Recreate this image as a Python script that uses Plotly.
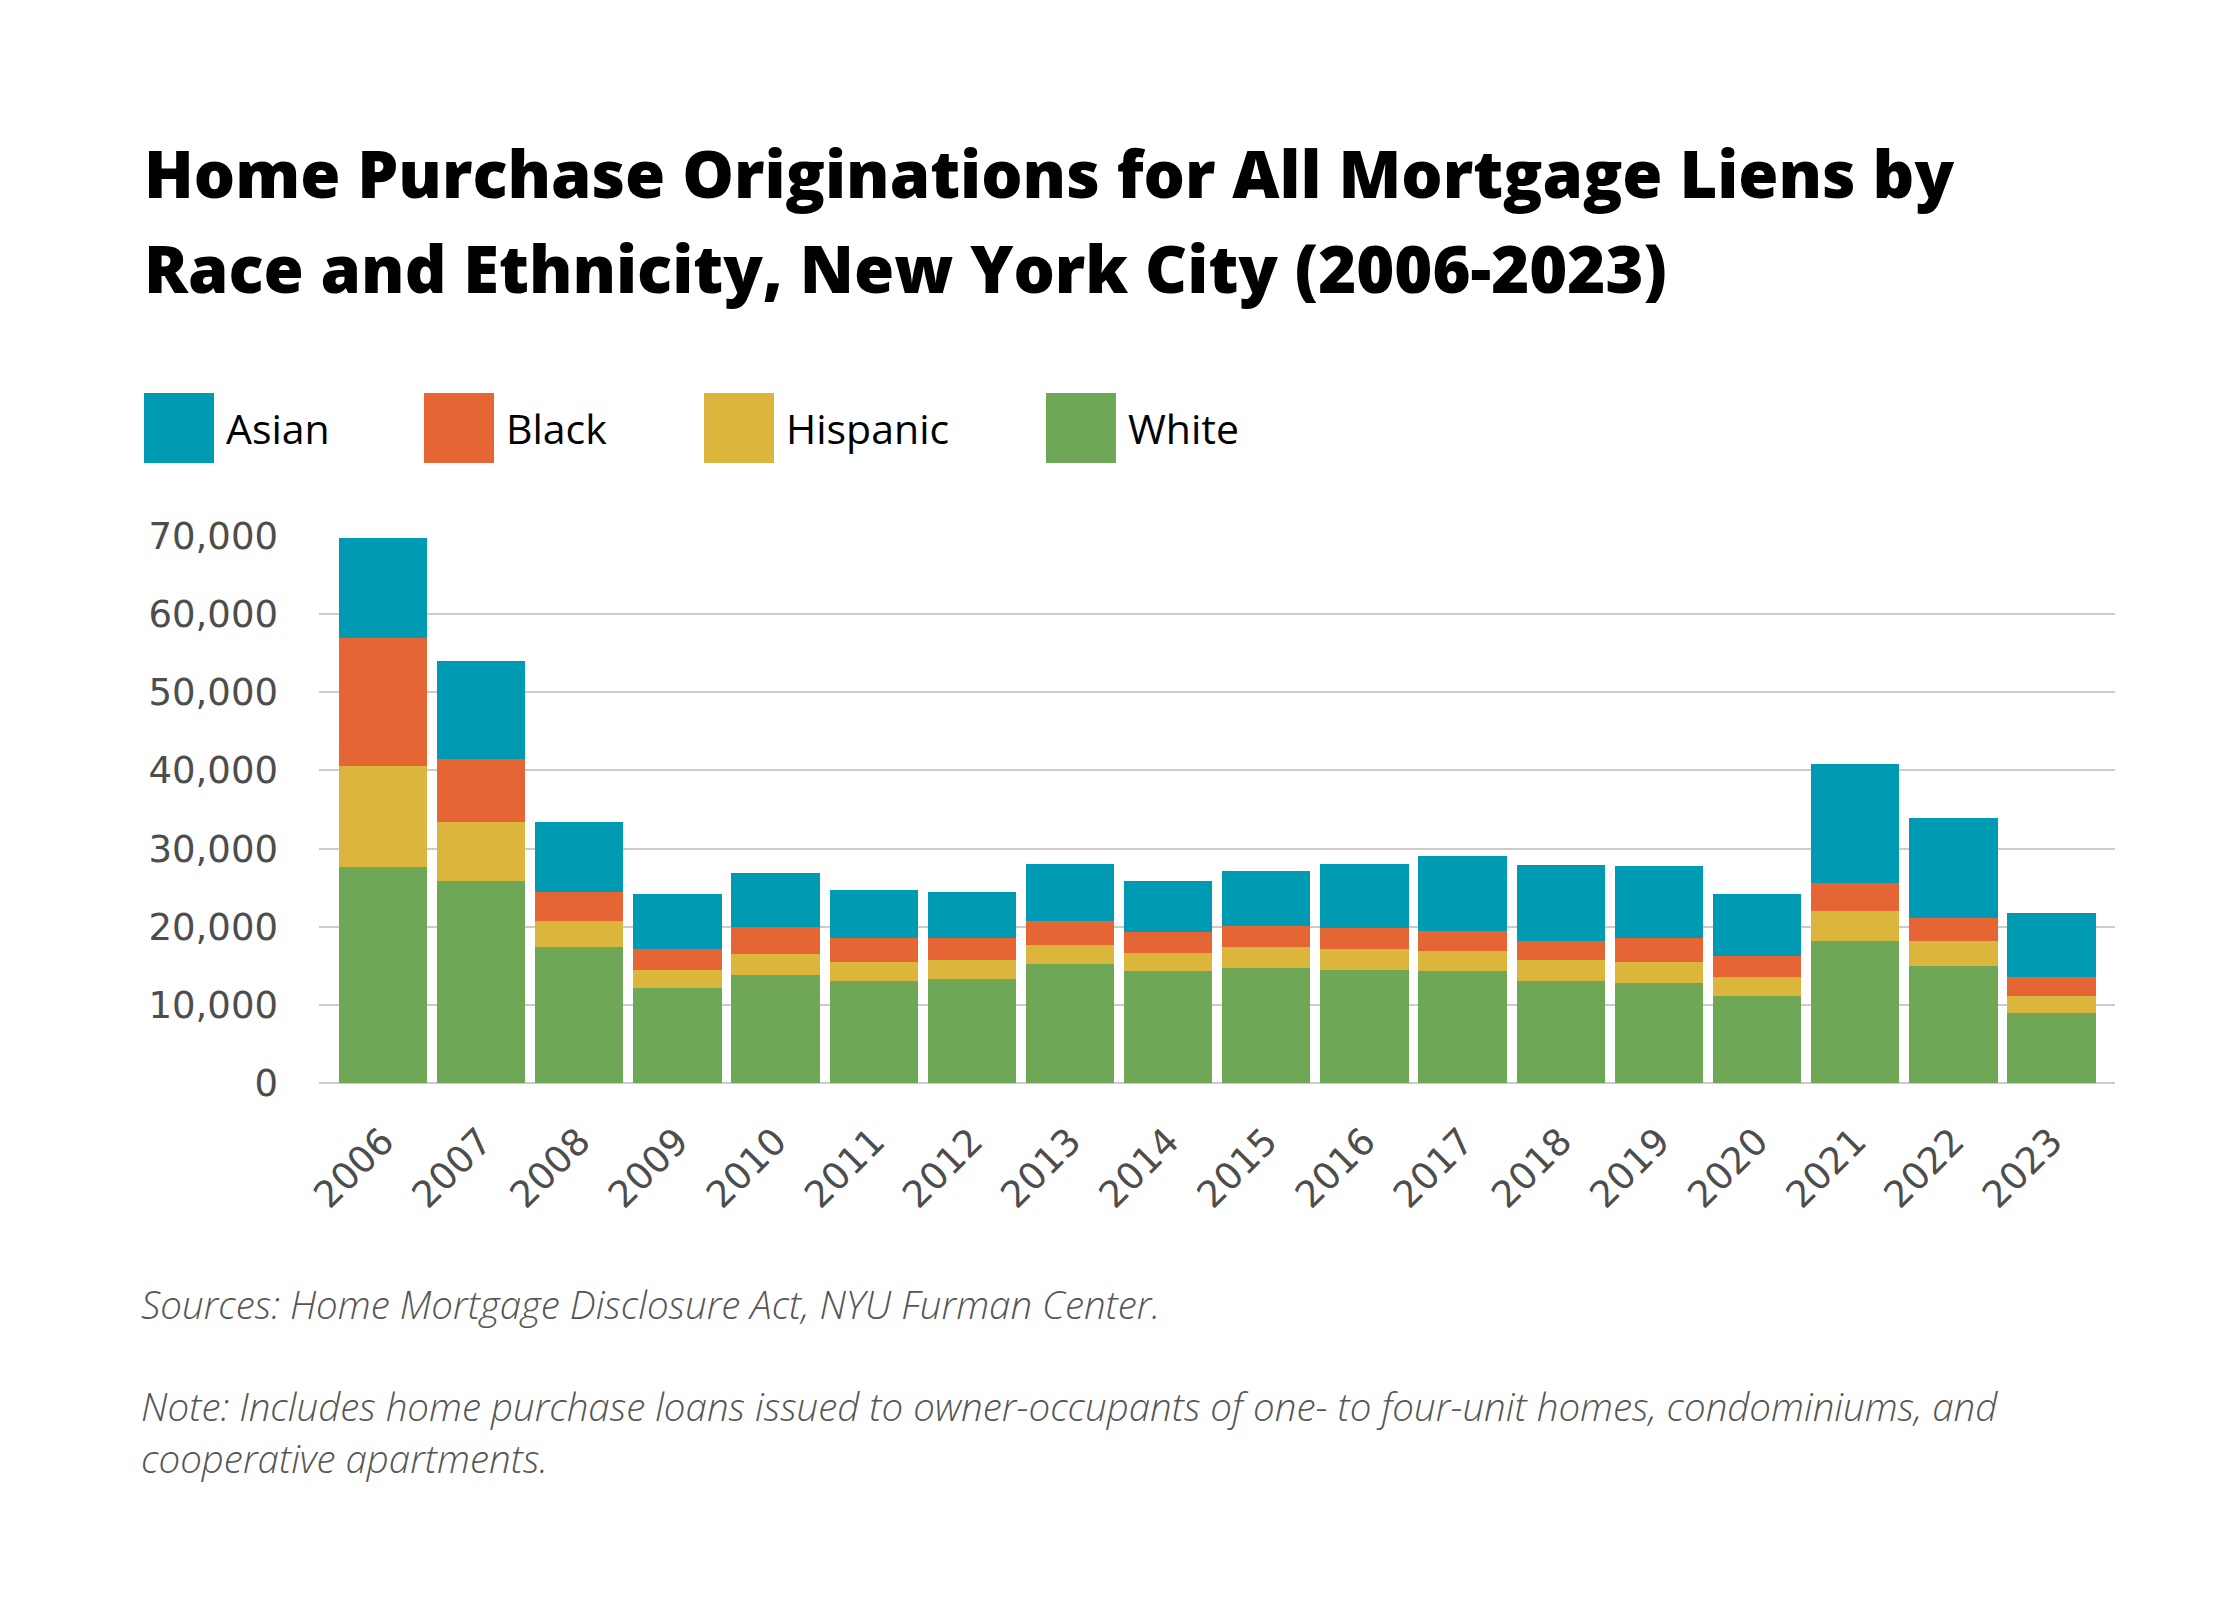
import plotly.graph_objects as go

W, H = 2240, 1600

years = [str(y) for y in range(2006, 2024)]

white = [27580, 25910, 17360, 12100, 13870, 13010, 13360, 15290, 14270,
         14780, 14430, 14270, 13110, 12750, 11080, 18220, 15030, 9010]
hispanic = [12960, 7550, 3340, 2330, 2580, 2430, 2430, 2430, 2430,
            2580, 2680, 2580, 2580, 2690, 2430, 3750, 3090, 2180]
black = [16350, 7940, 3800, 2780, 3490, 3080, 2730, 3030, 2630,
         2780, 2780, 2590, 2530, 3080, 2690, 3640, 2940, 2370]
asian = [12810, 12560, 8960, 7030, 6990, 6130, 5980, 7340, 6580,
         6940, 8100, 9560, 9620, 9220, 8040, 15190, 12800, 8150]

# bottom -> top stacking order, legend order is reversed
series = [
    ("White", white, "#6EA756"),
    ("Hispanic", hispanic, "#DCB53D"),
    ("Black", black, "#E66535"),
    ("Asian", asian, "#019AB3"),
]

# plot area in pixels
L, R, T, B = 311, 2107, 528, 1075


def px_x(x):
    return (x - L) / (R - L)


def px_y(y):
    return (B - y) / (B - T)


fig = go.Figure()
for name, vals, col in series:
    fig.add_trace(go.Bar(x=years, y=vals, name=name, marker_color=col,
                         marker_line_width=0, showlegend=False,
                         hovertemplate="%{x}<br>" + name + ": %{y:,}<extra></extra>"))

tick_font = dict(family="DejaVu Sans", size=37, color="#4d4d4d")

fig.update_layout(
    width=W, height=H,
    barmode="stack", bargap=0.1,
    plot_bgcolor="white", paper_bgcolor="white",
    margin=dict(l=L, r=W - R, t=T, b=H - B),
    xaxis=dict(type="category", range=[-0.652, 17.647], tickangle=-45,
               tickfont=tick_font, showgrid=False, showline=False,
               ticks="", ticklabelstandoff=28),
    yaxis=dict(range=[0, 70000], dtick=10000, tickformat=",d",
               tickfont=tick_font, showgrid=True, gridcolor="#CCCCCC",
               gridwidth=2, zeroline=True, zerolinecolor="#CCCCCC",
               zerolinewidth=2, showline=False, ticks="",
               ticklabelstandoff=40),
)

title_lines = ["Home Purchase Originations for All Mortgage Liens by",
               "Race and Ethnicity, New York City (2006-2023)"]
for i, line in enumerate(title_lines):
    fig.add_annotation(text=line, xref="paper", yref="paper",
                       x=px_x(134), y=px_y(165 + 95 * i),
                       xanchor="left", yanchor="middle", showarrow=False,
                       font=dict(family="Open Sans", size=65, color="#000000",
                                 weight=800))

# legend drawn by hand (large swatches)
legend_x = [136, 416, 696, 1038]
for (name, vals, col), lx in zip(series[::-1], legend_x):
    fig.add_shape(type="rect", xref="paper", yref="paper",
                  x0=px_x(lx), x1=px_x(lx + 70), y0=px_y(455), y1=px_y(385),
                  fillcolor=col, line_width=0)
    fig.add_annotation(text=name, xref="paper", yref="paper",
                       x=px_x(lx + 80), y=px_y(420), xanchor="left",
                       yanchor="middle", showarrow=False,
                       font=dict(family="Open Sans", size=41, color="#000000"))

foot_font = dict(family="Open Sans", size=38.5, color="#555555", style="italic",
                 weight=300)
notes = [
    (1296, "Sources: Home Mortgage Disclosure Act, NYU Furman Center."),
    (1398, "Note: Includes home purchase loans issued to owner-occupants of "
           "one- to four-unit homes, condominiums, and"),
    (1450, "cooperative apartments."),
]
for y, txt in notes:
    fig.add_annotation(text=txt, xref="paper", yref="paper",
                       x=px_x(131), y=px_y(y), xanchor="left",
                       yanchor="middle", showarrow=False, font=foot_font)

fig.write_html("out.html")
